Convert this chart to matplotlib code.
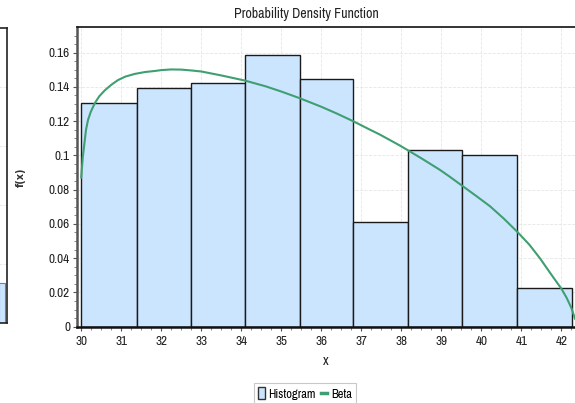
import matplotlib
matplotlib.use("Agg")
import matplotlib.pyplot as plt
from matplotlib import font_manager
from matplotlib.ticker import AutoMinorLocator, FixedLocator
from matplotlib.patches import Patch
from matplotlib.lines import Line2D

# ---- data ----
bin_edges = [30.0, 31.39, 32.74, 34.10, 35.46, 36.80, 38.17, 39.52, 40.88, 42.26]
hist_heights = [0.1305, 0.1394, 0.1423, 0.1587, 0.1448, 0.0611, 0.1030, 0.1003, 0.0224]

beta_x = [30.0, 30.04, 30.09, 30.12, 30.17, 30.24, 30.34, 30.45, 30.59, 30.75,
          30.92, 31.1, 31.34, 31.6, 31.84, 32.0, 32.25, 32.5, 32.75, 33.0,
          33.5, 34.09, 34.6, 35.0, 35.46, 36.0, 36.4, 36.81, 37.2, 37.46,
          37.96, 38.17, 38.5, 38.96, 39.2, 39.53, 39.9, 40.21, 40.55, 40.9,
          41.2, 41.46, 41.75, 42.0, 42.13, 42.25, 42.34]
beta_y = [0.087, 0.099, 0.109, 0.115, 0.1207, 0.1255, 0.1305, 0.1345, 0.138, 0.1412,
          0.144, 0.146, 0.1476, 0.1487, 0.1493, 0.1498, 0.1502, 0.1501, 0.1496, 0.149,
          0.1467, 0.1437, 0.1404, 0.1373, 0.1334, 0.1284, 0.1243, 0.1198, 0.1152, 0.1122,
          0.1058, 0.1029, 0.0983, 0.0916, 0.0877, 0.0821, 0.0758, 0.0704, 0.0633, 0.0553,
          0.0478, 0.0400, 0.0303, 0.0221, 0.0168, 0.0108, 0.0045]

x_ticks = [30, 31, 32, 33, 34, 35, 36, 37, 38, 39, 40, 41, 42]
y_ticks = [0, 0.02, 0.04, 0.06, 0.08, 0.10, 0.12, 0.14, 0.16]
y_tick_labels = ["0", "0.02", "0.04", "0.06", "0.08", "0.1", "0.12", "0.14", "0.16"]

title = "Probability Density Function"
xlabel = "x"
ylabel = "f(x)"
legend_labels = ["Histogram", "Beta"]

# ---- font: prefer a narrow / condensed sans if installed ----
narrow = None
for f in font_manager.fontManager.ttflist:
    n = f.name
    if ("Narrow" in n) or (f.stretch in ("condensed", "semi-condensed", 600, 500) if isinstance(f.stretch, str) else f.stretch <= 400):
        if f.style == "normal" and f.weight in (400, "normal", "regular", "book"):
            if narrow is None or "Narrow" in n or "Condensed" in n:
                narrow = f
                if "Narrow" in n:
                    break

def fp(size):
    if narrow is not None:
        return font_manager.FontProperties(fname=narrow.fname, size=size)
    return font_manager.FontProperties(family="Liberation Sans", size=size)

BAR_FILL = "#cce5ff"
BAR_EDGE = "#1a1a1a"
CURVE = "#3f9f72"
GRID = "#e6e6e6"
TXT = "#222222"

W, H = 575, 403
fig = plt.figure(figsize=(W / 100, H / 100), dpi=100)

def px_axes(l, t, r, b):
    return fig.add_axes([l / W, (H - b) / H, (r - l) / W, (b - t) / H])

# partial neighbouring panel on the far left (cut off)
axl = px_axes(-300, 28, 6.5, 323)
axl.set_xlim(0, 1)
axl.set_ylim(0, 1)
axl.set_xticks([])
axl.set_yticks([])
for y in [0.2, 0.4, 0.6, 0.8]:
    axl.axhline(y, color=GRID, lw=0.6, ls="--")
axl.bar([0.985], [0.135], width=0.02, color=BAR_FILL, edgecolor="#6a7fb0", lw=0.8)
for s in axl.spines.values():
    s.set_color("#222222")
    s.set_linewidth(1.2)

# main axes
ax = px_axes(77, 27.3, 582, 326.7)
x0 = 30 - 4.2 / 40.0
x1 = 30 + (582 - 81.5) / 40.0
ax.set_xlim(x0, x1)
ax.set_ylim(0, 0.1748)

lefts = bin_edges[:-1]
widths = [b - a for a, b in zip(bin_edges[:-1], bin_edges[1:])]
ax.bar(lefts, hist_heights, width=widths, align="edge", color=BAR_FILL,
       edgecolor=BAR_EDGE, linewidth=1.0, zorder=2)
ax.plot(beta_x, beta_y, color=CURVE, lw=1.5, zorder=3, solid_capstyle="round",
        solid_joinstyle="round")

ax.xaxis.set_major_locator(FixedLocator(x_ticks))
ax.set_xticklabels([str(t) for t in x_ticks])
ax.yaxis.set_major_locator(FixedLocator(y_ticks))
ax.set_yticklabels(y_tick_labels)
ax.xaxis.set_minor_locator(AutoMinorLocator(4))
ax.yaxis.set_minor_locator(AutoMinorLocator(4))
for lab in ax.get_xticklabels() + ax.get_yticklabels():
    lab.set_fontproperties(fp(9.5))
    lab.set_color(TXT)

ax.grid(True, which="major", color=GRID, lw=0.6, ls="--", zorder=0)
ax.set_axisbelow(True)

ax.tick_params(axis="both", which="major", length=3, width=0.8, color="#555555", pad=2)
ax.tick_params(axis="both", which="minor", length=2, width=0.6, color="#777777")
ax.tick_params(axis="x", pad=4)

ax.spines["left"].set_color("#555555")
ax.spines["left"].set_linewidth(1.8)
ax.spines["bottom"].set_color("#111111")
ax.spines["bottom"].set_linewidth(1.8)
ax.spines["top"].set_color("#111111")
ax.spines["top"].set_linewidth(1.2)
ax.spines["right"].set_visible(False)

fig.text(306 / W, 1 - 14 / H, title, ha="center", va="center", color=TXT,
         fontproperties=fp(10))
fig.text(326 / W, 1 - 361 / H, xlabel, ha="center", va="center", color=TXT,
         fontproperties=fp(10))
fig.text(21 / W, 1 - 177 / H, ylabel, ha="center", va="center", fontsize=7,
         rotation=90, color="#333333", fontweight="bold", family=['DejaVu Sans'])

handles = [Patch(facecolor=BAR_FILL, edgecolor="#333333", lw=1.0),
           Line2D([0], [0], color=CURVE, lw=2.5)]
leg = fig.legend(handles, legend_labels, loc="upper center",
                 bbox_to_anchor=(305 / W, 1 - 383 / H), ncol=2, prop=fp(9),
                 frameon=True, fancybox=False, edgecolor="#bbbbbb",
                 handlelength=0.5, handleheight=1.1, handletextpad=0.3,
                 columnspacing=0.4, borderpad=0.35, borderaxespad=0)
leg.get_frame().set_linewidth(0.8)

fig.savefig("out.png", dpi=100)
